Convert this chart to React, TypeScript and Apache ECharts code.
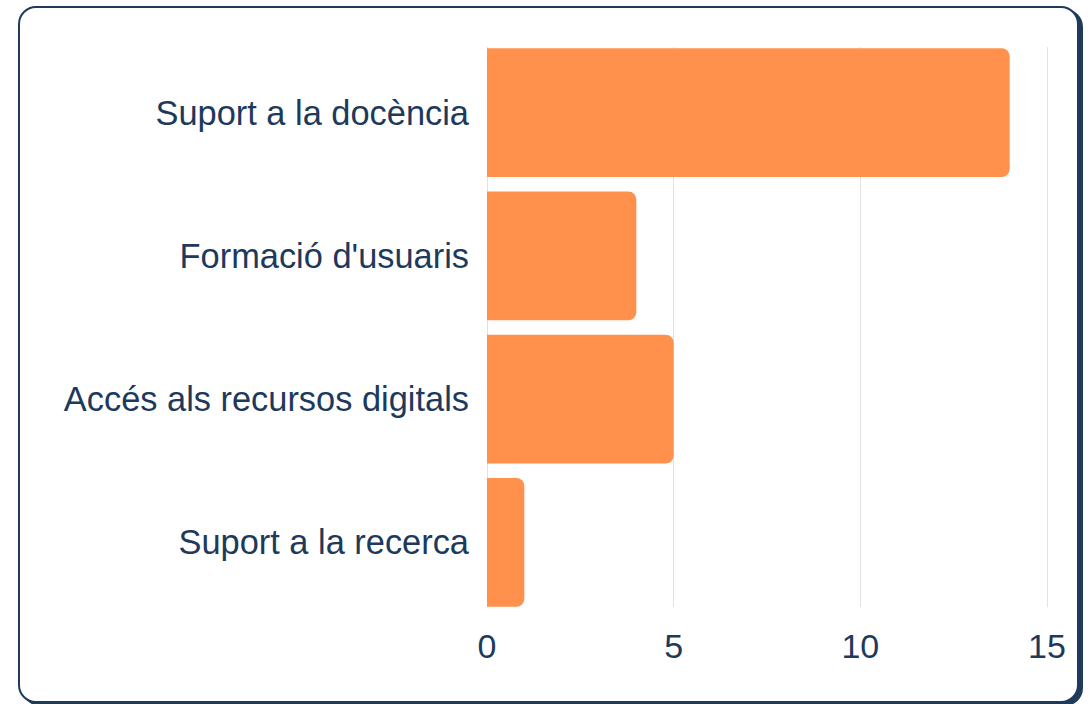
import React, { useEffect, useRef } from "react";
import * as echarts from "echarts";

const categories = ["Suport a la docència", "Formació d'usuaris", "Accés als recursos digitals", "Suport a la recerca"];
const values = [14, 4, 5, 1];
const xTicks = [0, 5, 10, 15];

const TEXT = "#1d3a5c";
const FONT = "Liberation Sans, Arial, sans-serif";

export default function App() {
  const ref = useRef<HTMLDivElement>(null);
  useEffect(() => {
    document.body.style.margin = "0";
    const chart = echarts.init(ref.current!, undefined, { renderer: "svg" });
    chart.setOption({
      animation: false,
      grid: [
        { left: 487, right: 44, top: 41, bottom: 90, containLabel: false },
        { left: 487, right: 44, top: 47, bottom: 97, containLabel: false },
      ],
      xAxis: [
        {
          type: "value",
          gridIndex: 0,
          min: xTicks[0],
          max: xTicks[xTicks.length - 1],
          interval: 5,
          axisLine: { show: false },
          axisTick: { show: false },
          splitLine: { show: false },
          axisLabel: { color: TEXT, fontSize: 34, fontFamily: FONT, margin: 15 },
        },
        {
          type: "value",
          gridIndex: 1,
          min: xTicks[0],
          max: xTicks[xTicks.length - 1],
          interval: 5,
          axisLine: { show: false },
          axisTick: { show: false },
          axisLabel: { show: false },
          splitLine: { show: true, lineStyle: { color: "#e2e2e2", width: 1 } },
        },
      ],
      yAxis: [
        {
          type: "category",
          gridIndex: 0,
          data: categories,
          inverse: true,
          z: 3,
          axisLine: { show: false },
          axisTick: { show: false },
          splitLine: { show: false },
          axisLabel: { color: TEXT, fontSize: 34.4, fontFamily: FONT, margin: 18 },
        },
        {
          type: "category",
          gridIndex: 1,
          data: categories,
          show: false,
        },
      ],
      series: [
        {
          type: "bar",
          xAxisIndex: 0,
          yAxisIndex: 0,
          data: values,
          z: 3,
          barCategoryGap: "10%",
          itemStyle: { color: "#ff914d", borderRadius: [0, 8, 8, 0] },
        },
      ],
    });
    return () => chart.dispose();
  }, []);
  return (
    <div style={{ position: "fixed", left: 0, top: 0, width: 1091, height: 704, background: "#fff", overflow: "hidden" }}>
      <div
        style={{
          position: "absolute",
          left: 18,
          top: 6,
          width: 1057,
          height: 693,
          border: "2px solid #1f3a5a",
          borderRadius: 18,
          boxShadow: "4px 3px 0 #1f3a5a",
          background: "#fff",
        }}
      />
      <div ref={ref} style={{ position: "absolute", left: 0, top: 0, width: 1091, height: 704 }} />
    </div>
  );
}
